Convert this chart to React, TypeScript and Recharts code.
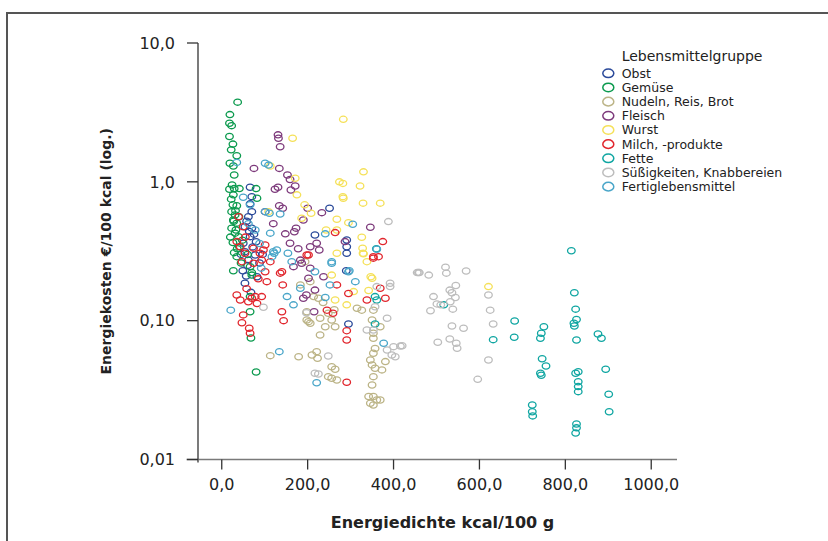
import { ScatterChart, Scatter, XAxis, YAxis, ReferenceLine } from "recharts";

// [kcal/100 g, €/100 kcal]
const obst: [number, number][] = [
  [66, 0.914], [70, 0.782], [66, 0.694], [70, 0.61], [62, 0.561], [54, 0.475], [70, 0.464], [66, 0.403],
  [50, 0.361], [54, 0.314], [78, 0.297], [62, 0.273], [49, 0.229], [82, 0.207], [251, 0.646], [217, 0.414],
  [291, 0.381], [291, 0.341], [291, 0.306], [290, 0.229], [54, 0.186], [295, 0.0946], [58, 0.52], [75, 0.42],
  [45, 0.3], [60, 0.25], [72, 0.34], [88, 0.26], [95, 0.3], [64, 0.44], [80, 0.37], [57, 0.21], [68, 0.16],
];
const gemuese: [number, number][] = [
  [37, 3.75], [19, 3.05], [18, 2.64], [23, 2.54], [18, 2.12], [26, 1.87], [22, 1.7], [35, 1.54], [19, 1.36],
  [27, 1.3], [29, 1.12], [18, 0.885], [29, 0.894], [41, 0.894], [80, 0.894], [82, 0.762], [27, 0.806],
  [26, 0.683], [35, 0.672], [23, 0.61], [31, 0.578], [27, 0.531], [35, 0.504], [23, 0.464], [31, 0.427],
  [39, 0.403], [26, 0.365], [41, 0.341], [29, 0.309], [35, 0.289], [27, 0.229], [66, 0.245], [70, 0.222],
  [70, 0.213], [66, 0.149], [66, 0.116], [68, 0.075], [80, 0.0427], [24, 0.95], [32, 0.62], [28, 0.52],
  [20, 0.4], [36, 0.33], [45, 0.26], [40, 0.56], [22, 0.75], [33, 0.45], [48, 0.38], [60, 0.3],
];
const nudeln: [number, number][] = [
  [194, 0.266], [206, 0.191], [183, 0.181], [214, 0.149], [225, 0.145], [198, 0.116], [198, 0.101],
  [202, 0.0984], [206, 0.0958], [229, 0.104], [241, 0.0905], [256, 0.101], [264, 0.0905], [248, 0.113],
  [229, 0.0789], [221, 0.0598], [223, 0.0536], [210, 0.0566], [179, 0.055], [256, 0.0466], [264, 0.0447],
  [248, 0.0395], [256, 0.0385], [268, 0.0374], [353, 0.0395], [350, 0.0344], [342, 0.0284], [353, 0.0284],
  [361, 0.0268], [346, 0.0254], [353, 0.0247], [369, 0.0268], [357, 0.0454], [350, 0.048], [346, 0.0521],
  [353, 0.0582], [353, 0.0747], [350, 0.101], [353, 0.0811], [369, 0.0905], [381, 0.0507], [373, 0.0442],
  [315, 0.123], [326, 0.119], [353, 0.119], [113, 0.056], [236, 0.135], [262, 0.12], [357, 0.063],
];
const fleisch: [number, number][] = [
  [131, 2.18], [132, 2.06], [136, 1.79], [75, 1.25], [134, 1.25], [153, 1.12], [159, 1.04], [171, 0.933],
  [131, 0.914], [124, 0.885], [161, 0.874], [134, 0.672], [142, 0.646], [101, 0.61], [200, 0.646], [233, 0.6],
  [190, 0.531], [148, 0.422], [173, 0.464], [169, 0.437], [159, 0.361], [221, 0.361], [206, 0.341],
  [346, 0.471], [287, 0.371], [227, 0.323], [183, 0.273], [206, 0.239], [167, 0.245], [186, 0.259],
  [202, 0.202], [237, 0.207], [217, 0.166], [190, 0.145], [197, 0.153], [215, 0.116], [120, 0.5], [178, 0.33],
];
const wurst: [number, number][] = [
  [283, 2.82], [165, 2.06], [113, 1.3], [171, 1.06], [330, 1.18], [274, 1.0], [282, 0.974], [322, 0.933],
  [175, 0.806], [282, 0.782], [283, 0.762], [329, 0.702], [369, 0.702], [193, 0.683], [109, 0.61],
  [208, 0.594], [186, 0.547], [268, 0.538], [295, 0.508], [243, 0.45], [268, 0.45], [326, 0.399],
  [328, 0.333], [330, 0.303], [347, 0.207], [268, 0.306], [329, 0.306], [338, 0.266], [350, 0.202],
  [256, 0.213], [307, 0.162], [342, 0.165], [264, 0.141], [291, 0.13], [621, 0.176],
];
const milch: [number, number][] = [
  [39, 0.561], [50, 0.475], [35, 0.371], [43, 0.341], [54, 0.306], [74, 0.333], [89, 0.306], [97, 0.323],
  [47, 0.266], [74, 0.259], [93, 0.273], [113, 0.266], [136, 0.22], [101, 0.225], [140, 0.225], [142, 0.181],
  [105, 0.191], [35, 0.153], [43, 0.141], [62, 0.137], [78, 0.149], [93, 0.149], [82, 0.133], [50, 0.11],
  [47, 0.0967], [64, 0.0881], [66, 0.0811], [140, 0.116], [144, 0.1], [291, 0.0847], [291, 0.0726],
  [291, 0.036], [245, 0.119], [259, 0.113], [268, 0.181], [295, 0.157], [353, 0.289], [369, 0.171],
  [381, 0.145], [338, 0.141], [202, 0.297], [264, 0.431], [375, 0.371], [365, 0.289], [353, 0.282],
  [198, 0.297], [101, 0.351], [58, 0.17], [70, 0.145], [85, 0.2], [55, 0.4],
];
const fette: [number, number][] = [
  [814, 0.319], [821, 0.159], [824, 0.121], [826, 0.102], [820, 0.0958], [821, 0.0916], [826, 0.0726],
  [682, 0.0995], [681, 0.0759], [632, 0.073], [750, 0.0905], [744, 0.0811], [742, 0.0747], [876, 0.0802],
  [884, 0.0747], [746, 0.0532], [755, 0.0472], [744, 0.0404], [824, 0.0418], [830, 0.0429], [830, 0.0363],
  [830, 0.0335], [830, 0.0308], [894, 0.0447], [901, 0.0295], [902, 0.0221], [723, 0.0247], [723, 0.0221],
  [724, 0.0206], [826, 0.018], [826, 0.0169], [824, 0.0155], [517, 0.13], [360, 0.33], [357, 0.149],
  [361, 0.141], [357, 0.0946], [742, 0.0418],
];
const suess: [number, number][] = [
  [460, 0.222], [482, 0.213], [521, 0.243], [523, 0.22], [569, 0.228], [545, 0.179], [531, 0.166],
  [493, 0.149], [536, 0.159], [544, 0.147], [501, 0.132], [510, 0.13], [532, 0.137], [538, 0.121],
  [486, 0.118], [621, 0.153], [625, 0.119], [632, 0.0946], [536, 0.0916], [563, 0.0881], [503, 0.0699],
  [531, 0.0738], [546, 0.0687], [548, 0.0633], [621, 0.0521], [596, 0.0378], [420, 0.066], [388, 0.517],
  [455, 0.222], [392, 0.186], [458, 0.222], [197, 0.114], [97, 0.125], [338, 0.0857], [353, 0.0857],
  [385, 0.104], [400, 0.065], [416, 0.0656], [396, 0.0566], [404, 0.055], [385, 0.0615], [217, 0.0418],
  [225, 0.0413], [248, 0.0557], [361, 0.176], [357, 0.126], [392, 0.176],
];
const fertig: [number, number][] = [
  [35, 1.38], [109, 1.32], [101, 1.36], [101, 0.61], [111, 0.594], [50, 0.774], [66, 0.683], [113, 0.427],
  [136, 0.587], [128, 0.323], [117, 0.289], [154, 0.306], [241, 0.422], [305, 0.495], [297, 0.229],
  [256, 0.266], [120, 0.314], [92, 0.239], [163, 0.266], [361, 0.327], [21, 0.119], [134, 0.0598],
  [221, 0.0357], [377, 0.0687], [167, 0.13], [152, 0.149], [183, 0.171], [241, 0.147], [217, 0.225],
  [295, 0.225], [311, 0.191], [252, 0.181], [256, 0.259], [122, 0.306], [62, 0.5], [88, 0.36], [78, 0.45],
];

const groups = [
  { name: "Obst", color: "#2b4a9a", pts: obst },
  { name: "Gemüse", color: "#0b9a4e", pts: gemuese },
  { name: "Nudeln, Reis, Brot", color: "#bcb487", pts: nudeln },
  { name: "Fleisch", color: "#7e3b7c", pts: fleisch },
  { name: "Wurst", color: "#f5e15a", pts: wurst },
  { name: "Milch, -produkte", color: "#e1262d", pts: milch },
  { name: "Fette", color: "#10a6a2", pts: fette },
  { name: "Süßigkeiten, Knabbereien", color: "#bdbdbd", pts: suess },
  { name: "Fertiglebensmittel", color: "#4aa6c9", pts: fertig },
];

const xTicks = [0, 200, 400, 600, 800, 1000];
const yTicks = [0.01, 0.1, 1, 10];
const yTickLabels: Record<string, string> = { "0.01": "0,01", "0.1": "0,10", "1": "1,0", "10": "10,0" };

const font = "'DejaVu Sans', sans-serif";

function ring(color: string) {
  // eslint-disable-next-line @typescript-eslint/no-explicit-any
  return (p: any) => (
    <ellipse cx={p.cx} cy={p.cy} rx={3.8} ry={3.1} fill="none" stroke={color} strokeWidth={1.3} />
  );
}

function LegendBox() {
  return (
    <svg width={828} height={541} style={{ position: "absolute", left: 0, top: 0, pointerEvents: "none" }}>
      <text x={621.7} y={60.7} fontSize={14} fontFamily={font} fill="#222">
        Lebensmittelgruppe
      </text>
      {groups.map((g, i) => {
        const cy = 73.3 + i * 14.17;
        return (
          <g key={g.name}>
            <ellipse cx={608.3} cy={cy} rx={5.5} ry={4.3} fill="none" stroke={g.color} strokeWidth={1.5} />
            <text x={621.7} y={cy + 4.4} fontSize={12.5} fontFamily={font} fill="#222">
              {g.name}
            </text>
          </g>
        );
      })}
    </svg>
  );
}

export default function App() {
  return (
    <div style={{ position: "absolute", left: 0, top: 0, width: 828, height: 541, background: "#fff" }}>
      <div
        style={{
          position: "absolute",
          left: 6,
          top: 11.5,
          right: -10,
          bottom: -10,
          borderLeft: "2px solid #555",
          borderTop: "2px solid #555",
        }}
      />
      <ScatterChart width={828} height={541} margin={{ top: 43, right: 151, bottom: 0, left: 0 }} style={{ fontFamily: font }}>
        <XAxis
          type="number"
          dataKey="x"
          domain={[-55.3, 1060]}
          allowDataOverflow
          ticks={xTicks}
          height={81.5}
          tickFormatter={(v) => v.toFixed(1).replace(".", ",")}
          tick={{ fontSize: 16, fill: "#222", fontFamily: font }}
          tickSize={10}
          tickMargin={9}
          tickLine={{ stroke: "#333", strokeWidth: 1.3 }}
          axisLine={{ stroke: "#7a7a7a", strokeWidth: 1.6 }}
          label={{
            value: "Energiedichte kcal/100 g",
            position: "insideBottom",
            offset: 13,
            dx: 5,
            style: { fontSize: 16, fontWeight: "bold", fill: "#222", fontFamily: font },
          }}
        />
        <YAxis
          type="number"
          dataKey="y"
          scale="log"
          domain={[0.01, 10]}
          allowDataOverflow
          ticks={yTicks}
          width={198}
          tickFormatter={(v) => yTickLabels[String(v)] ?? String(v)}
          tick={{ fontSize: 16, fill: "#222", fontFamily: font }}
          tickSize={11}
          tickMargin={12}
          tickLine={{ stroke: "#333", strokeWidth: 1.3 }}
          axisLine={{ stroke: "#333", strokeWidth: 1.3 }}
          label={{
            value: "Energiekosten €/100 kcal (log.)",
            angle: -90,
            position: "insideLeft",
            offset: 106,
            style: { textAnchor: "middle", fontSize: 14, fontWeight: "bold", fill: "#222", fontFamily: font },
          }}
        />
        <ReferenceLine
          segment={[{ x: -82, y: 0.01 }, { x: -55.3, y: 0.01 }]}
          ifOverflow="visible"
          stroke="#7a7a7a"
          strokeWidth={1.6}
        />
        <ReferenceLine
          segment={[{ x: -55.3, y: 0.01 }, { x: -55.3, y: 0.0095 }]}
          ifOverflow="visible"
          stroke="#333"
          strokeWidth={1.3}
        />
        {groups.map((g) => (
          <Scatter
            key={g.name}
            name={g.name}
            data={g.pts.map(([x, y]) => ({ x, y }))}
            shape={ring(g.color)}
            isAnimationActive={false}
          />
        ))}
      </ScatterChart>
      <LegendBox />
    </div>
  );
}
